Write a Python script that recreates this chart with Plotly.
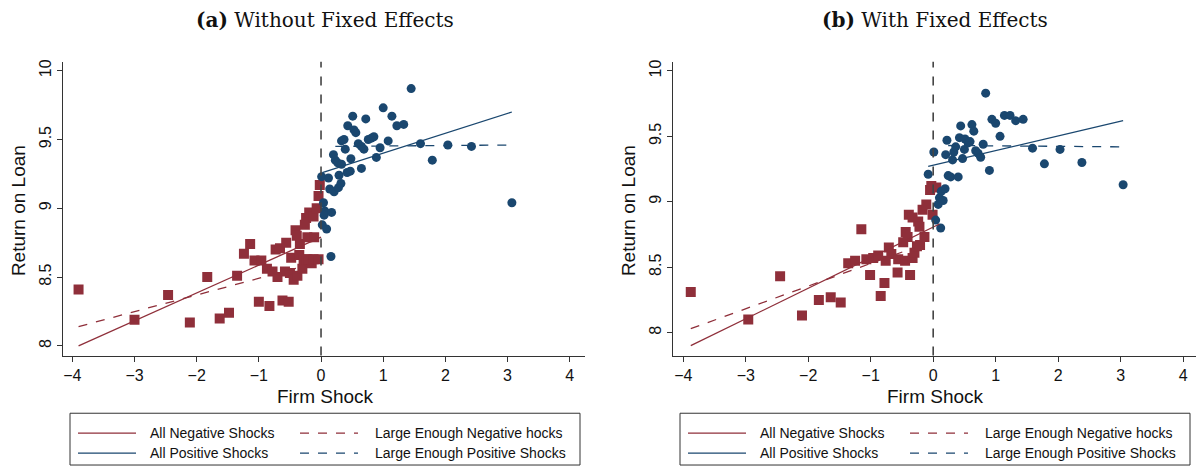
import plotly.graph_objects as go

RED = "#8f2f3a"
BLUE = "#1a476f"

# Panel (a) data
a_neg_x = [-3.9,-3.0,-2.46,-2.11,-1.83,-1.63,-1.48,-1.35,-1.24,-1.14,-1.07,-0.96,-1.0,-0.87,-0.83,-0.78,-0.7,-0.73,-0.66,-0.62,-0.52,-0.58,-0.56,-0.5,-0.44,-0.38,-0.48,-0.35,-0.34,-0.41,-0.39,-0.3,-0.28,-0.23,-0.15,-0.2,-0.12,-0.04,-0.22,-0.11,-0.26,-0.24,-0.19,-0.12,-0.07,-0.04,-0.02]
a_neg_y = [8.41,8.19,8.37,8.17,8.5,8.2,8.24,8.51,8.67,8.74,8.62,8.62,8.32,8.56,8.29,8.54,8.5,8.7,8.71,8.33,8.32,8.54,8.75,8.53,8.48,8.51,8.64,8.66,8.74,8.84,8.8,8.56,8.62,8.63,8.6,8.63,8.63,8.63,8.79,8.79,8.88,8.93,8.97,8.94,9.0,9.09,9.17]
a_pos_x = [0.01,0.12,0.14,0.21,0.28,0.32,0.29,0.42,0.47,0.65,0.2,0.23,0.27,0.33,0.48,0.39,0.33,0.37,0.43,0.51,0.53,0.56,0.6,0.65,0.69,0.72,0.76,0.81,0.85,0.89,0.95,1.0,1.08,1.14,1.22,1.33,1.45,1.6,1.79,2.04,2.42,3.07,0.04,0.06,0.05,0.17,0.02,0.09,0.16]
a_pos_y = [9.23,9.22,9.14,9.12,9.15,9.18,9.24,9.26,9.27,9.29,9.39,9.35,9.33,9.32,9.36,9.43,9.49,9.5,9.6,9.67,9.57,9.55,9.47,9.45,9.43,9.65,9.5,9.51,9.52,9.37,9.44,9.73,9.49,9.67,9.6,9.61,9.87,9.47,9.35,9.46,9.45,9.04,9.04,8.98,8.95,8.97,8.88,8.85,8.65]
a_fit_neg_all_x = [-3.9, 0.0]; a_fit_neg_all_y = [8.0, 8.79]
a_fit_neg_big_x = [-3.9, -0.1]; a_fit_neg_big_y = [8.14, 8.60]
a_fit_pos_all_x = [0.02, 3.07]; a_fit_pos_all_y = [9.26, 9.70]
a_fit_pos_big_x = [0.23, 3.07]; a_fit_pos_big_y = [9.45, 9.46]

# Panel (b) data
b_neg_x = [-3.88,-2.96,-2.45,-2.1,-1.83,-1.64,-1.48,-1.36,-1.25,-1.15,-1.07,-1.01,-0.96,-0.88,-0.84,-0.78,-0.76,-0.71,-0.67,-0.56,-0.57,-0.48,-0.45,-0.44,-0.41,-0.37,-0.33,-0.3,-0.26,-0.21,-0.14,-0.39,-0.33,-0.24,-0.22,-0.17,-0.11,-0.01,-0.05,-0.03,0.05]
b_neg_y = [8.31,8.1,8.43,8.13,8.25,8.27,8.23,8.53,8.55,8.79,8.56,8.44,8.57,8.59,8.28,8.38,8.55,8.65,8.6,8.56,8.46,8.69,8.55,8.77,8.73,8.44,8.57,8.61,8.66,8.67,8.73,8.9,8.88,8.85,8.81,8.94,8.98,8.9,9.09,9.12,9.11]
b_pos_x = [-0.08,0.01,0.04,0.12,0.08,0.1,0.16,0.13,0.19,0.24,0.28,0.4,0.2,0.31,0.33,0.36,0.47,0.5,0.22,0.42,0.51,0.56,0.59,0.68,0.72,0.76,0.8,0.44,0.62,0.65,0.9,0.84,0.94,1.0,1.07,1.14,1.23,1.32,1.44,1.59,1.78,2.03,2.38,3.04]
b_pos_y = [9.21,9.38,8.86,8.8,8.98,9.03,9.01,9.08,9.1,9.2,9.19,9.19,9.36,9.32,9.38,9.42,9.33,9.4,9.47,9.49,9.48,9.45,9.46,9.39,9.37,9.34,9.44,9.58,9.59,9.54,9.24,9.83,9.63,9.6,9.5,9.66,9.66,9.62,9.63,9.41,9.29,9.4,9.3,9.13]
b_fit_neg_all_x = [-3.88, 0.1]; b_fit_neg_all_y = [7.90, 8.83]
b_fit_neg_big_x = [-3.88, -0.3]; b_fit_neg_big_y = [8.03, 8.65]
b_fit_pos_all_x = [-0.08, 3.04]; b_fit_pos_all_y = [9.27, 9.62]
b_fit_pos_big_x = [0.24, 3.04]; b_fit_pos_big_y = [9.43, 9.42]

y_ticks = [8, 8.5, 9, 9.5, 10]
y_ticklabels = ["8", "8.5", "9", "9.5", "10"]
x_ticks = [-4, -3, -2, -1, 0, 1, 2, 3, 4]
legend_labels = ["All Negative Shocks", "Large Enough Negative hocks", "All Positive Shocks", "Large Enough Positive Shocks"]
titles = ["<b>(a)</b> Without Fixed Effects", "<b>(b)</b> With Fixed Effects"]

fig = go.Figure()
panels = [
    (a_neg_x, a_neg_y, a_pos_x, a_pos_y, a_fit_neg_all_x, a_fit_neg_all_y, a_fit_neg_big_x, a_fit_neg_big_y, a_fit_pos_all_x, a_fit_pos_all_y, a_fit_pos_big_x, a_fit_pos_big_y),
    (b_neg_x, b_neg_y, b_pos_x, b_pos_y, b_fit_neg_all_x, b_fit_neg_all_y, b_fit_neg_big_x, b_fit_neg_big_y, b_fit_pos_all_x, b_fit_pos_all_y, b_fit_pos_big_x, b_fit_pos_big_y),
]
for i, p in enumerate(panels):
    xa = "x" if i == 0 else "x2"
    ya = "y" if i == 0 else "y2"
    nx, ny, px, py, l1x, l1y, l2x, l2y, l3x, l3y, l4x, l4y = p
    fig.add_trace(go.Scatter(x=nx, y=ny, mode="markers", xaxis=xa, yaxis=ya, showlegend=False,
                             marker=dict(symbol="square", size=10, color=RED)))
    fig.add_trace(go.Scatter(x=px, y=py, mode="markers", xaxis=xa, yaxis=ya, showlegend=False,
                             marker=dict(symbol="circle", size=9, color=BLUE)))
    for lx, ly, c, d in [(l1x, l1y, RED, "solid"), (l2x, l2y, RED, "dash"), (l3x, l3y, BLUE, "solid"), (l4x, l4y, BLUE, "dash")]:
        fig.add_trace(go.Scatter(x=lx, y=ly, mode="lines", xaxis=xa, yaxis=ya, showlegend=False,
                                 line=dict(color=c, width=1.3, dash=d)))
    fig.add_shape(type="line", xref=xa, yref=ya + " domain", x0=0, x1=0, y0=0, y1=1,
                  line=dict(color="#444", width=1.6, dash="dash"))

axis_common = dict(showgrid=False, zeroline=False, showline=True, linecolor="#333", linewidth=1,
                   ticks="outside", ticklen=5, tickcolor="#333",
                   tickfont=dict(family="Liberation Sans, Arial", size=16, color="#111"))
fig.update_layout(
    width=1198, height=469, margin=dict(l=0, r=0, t=0, b=0),
    plot_bgcolor="white", paper_bgcolor="white",
    xaxis=dict(domain=[0.0526, 0.488], range=[-4.15, 4.24], tickvals=x_ticks, **axis_common),
    yaxis=dict(domain=[0.243, 0.872], range=[7.93, 10.065], tickvals=y_ticks, ticktext=y_ticklabels, tickangle=-90, **axis_common),
    xaxis2=dict(domain=[0.562, 0.998], range=[-4.16, 4.2], tickvals=x_ticks, **axis_common),
    yaxis2=dict(domain=[0.243, 0.872], range=[7.825, 10.07], tickvals=y_ticks, ticktext=y_ticklabels, tickangle=-90, anchor="x2", **axis_common),
)
fig.layout.xaxis2.anchor = "y2"

W, H = 1198, 469
def px_x(v): return v / W
def px_y(v): return 1 - v / H

ann = []
shapes = []
for i in range(2):
    off = 0 if i == 0 else 610
    cx = 325 if i == 0 else 935
    ann.append(dict(text=titles[i], x=px_x(cx), y=px_y(18), xref="paper", yref="paper", showarrow=False,
                    xanchor="center", yanchor="middle",
                    font=dict(family="DejaVu Serif", size=20, color="#111")))
    ann.append(dict(text="Firm Shock", x=px_x(cx), y=px_y(396), xref="paper", yref="paper", showarrow=False,
                    xanchor="center", yanchor="middle",
                    font=dict(family="Liberation Sans, Arial", size=19, color="#111")))
    ann.append(dict(text="Return on Loan", x=px_x(18 + off), y=px_y(210), xref="paper", yref="paper", showarrow=False,
                    xanchor="center", yanchor="middle",
                    textangle=-90, font=dict(family="Liberation Sans, Arial", size=19, color="#111")))
    shapes.append(dict(type="rect", xref="paper", yref="paper", x0=px_x(70 + off), x1=px_x(580 + off),
                       y0=px_y(465), y1=px_y(413), line=dict(color="#333", width=1)))
    entries = [(78, 433, RED, "solid", 148, legend_labels[0]), (300, 433, RED, "dash", 373, legend_labels[1]),
               (78, 453, BLUE, "solid", 148, legend_labels[2]), (300, 453, BLUE, "dash", 373, legend_labels[3])]
    for lx, ly, c, d, tx, t in entries:
        shapes.append(dict(type="line", xref="paper", yref="paper", x0=px_x(lx + off), x1=px_x(lx + 58 + off),
                           y0=px_y(ly), y1=px_y(ly), line=dict(color=c, width=1.3, dash=d)))
        ann.append(dict(text=t, x=px_x(tx + off), y=px_y(ly), xref="paper", yref="paper", showarrow=False,
                        xanchor="left", yanchor="middle",
                        font=dict(family="Liberation Sans, Arial", size=14, color="#111")))
fig.update_layout(annotations=ann)
for s in shapes:
    fig.add_shape(**s)

fig.write_html("out.html", config={"displayModeBar": False},
               post_script="document.body.style.margin='0';document.body.style.overflow='hidden';")
